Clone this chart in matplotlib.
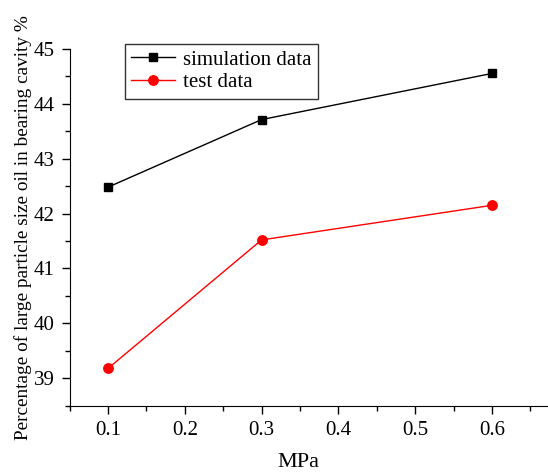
import numpy as np
import matplotlib.pyplot as plt
from matplotlib.ticker import MultipleLocator

plt.rcParams['font.family'] = ['Liberation Serif', 'DejaVu Serif']

pressure = [0.1, 0.3, 0.6]
simulation = [42.48, 43.71, 44.55]
test = [39.18, 41.52, 42.15]

fig = plt.figure(figsize=(5.48, 4.73), dpi=100)
ax = fig.add_axes([0.127, 0.142, 0.873, 0.755])

ax.plot(pressure, simulation, color='black', lw=1, marker='s', ms=6.3, label='simulation data')
ax.plot(pressure, test, color='red', lw=1, marker='o', ms=6.8, label='test data')

ax.set_xlim(0.05, 0.673)
ax.set_ylim(38.5, 45)
ax.xaxis.set_minor_locator(MultipleLocator(0.05))
ax.yaxis.set_major_locator(MultipleLocator(1))
ax.yaxis.set_minor_locator(MultipleLocator(0.5))
ax.set_xticks([0.1, 0.2, 0.3, 0.4, 0.5, 0.6])
ax.set_xticklabels(['0.1', '0.2', '0.3', '0.4', '0.5', '0.6'])

ax.spines['top'].set_visible(False)
ax.spines['right'].set_visible(False)
ax.tick_params(which='major', direction='out', length=6, width=1, labelsize=15, pad=5)
ax.tick_params(which='minor', direction='out', length=3.5, width=1)

ax.set_xlabel('MPa', fontsize=16, va='center')
ax.xaxis.set_label_coords(0.479, -0.16)
ax.set_ylabel('Percentage of large particle size oil in bearing cavity %', fontsize=13.9, labelpad=1)

leg = ax.legend(loc='upper left', bbox_to_anchor=(0.115, 1.014), borderaxespad=0, fontsize=15,
                frameon=True, fancybox=False, edgecolor='black', borderpad=0.3,
                handlelength=2.1, handletextpad=0.4, labelspacing=0.15)
leg.get_frame().set_linewidth(1)

fig.savefig('out.png', dpi=100)
